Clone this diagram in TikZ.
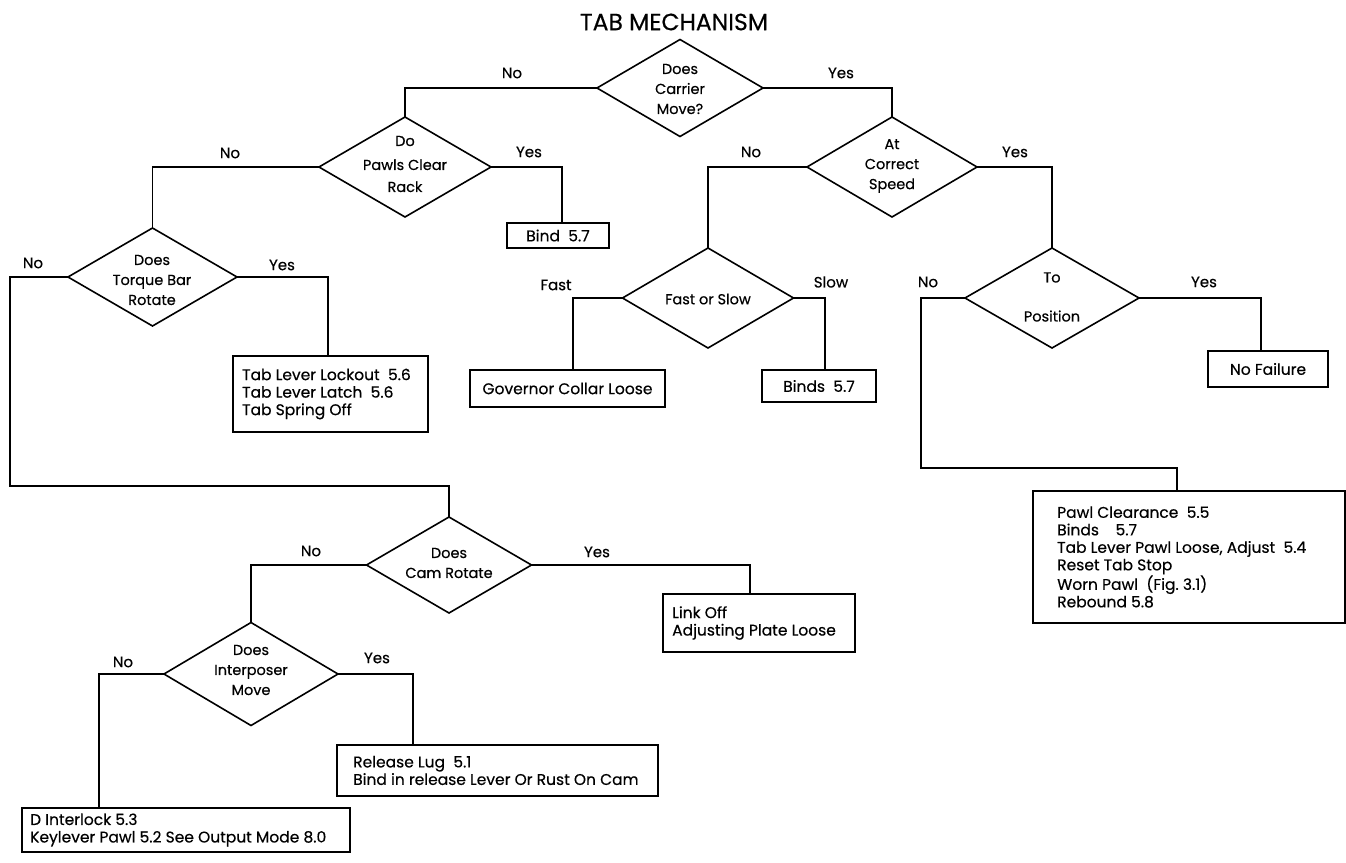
\documentclass[tikz,border=0pt]{standalone}
\usepackage{fontspec}
\newfontfamily\popfont[FakeBold=0.4]{Poppins}
\usetikzlibrary{shapes.geometric}
\newcommand\bodyfont{\popfont\fontsize{14.5}{20}\selectfont}
\newcommand\boxfont{\popfont\fontsize{15.5}{17.5}\selectfont}
\newcommand\lblfont{\popfont\fontsize{15}{18}\selectfont}
\newcommand\titlefont{\popfont\fontsize{23.5}{28}\selectfont}
\begin{document}
\begin{tikzpicture}[x=1pt,y=-1pt,
 dia/.style={draw,diamond,inner sep=0pt,outer sep=0pt,line width=1.6pt},
 rbox/.style={draw,rectangle,inner sep=0pt,outer sep=0pt,line width=1.6pt},
 txt/.style={font=\bodyfont,align=center,inner sep=0pt},
 btxt/.style={font=\boxfont,align=center,inner sep=0pt},
 ltxt/.style={font=\boxfont,align=left,inner sep=0pt,anchor=west},
 lbl/.style={font=\lblfont,inner sep=0pt},
 wire/.style={line width=1.6pt}]
\useasboundingbox (0,0) rectangle (1346,862);

\node[txt,font=\titlefont] (title) at (674,22) {TAB MECHANISM};

% diamonds
\node[dia,minimum width=166pt,minimum height=97pt] (d1) at (680,88) {};
\node[txt] (t1) at (680,89) {Does\\Carrier\\Move?};
\node[dia,minimum width=172pt,minimum height=100pt] (d2) at (405,167) {};
\node[txt] (t2) at (405,164) {Do\\[4pt]Pawls Clear\\[2pt]Rack};
\node[dia,minimum width=170pt,minimum height=100pt] (d3) at (892,167) {};
\node[txt] (t3) at (892,166) {At\\Correct\\Speed};
\node[dia,minimum width=169pt,minimum height=98pt] (d4) at (152.5,277) {};
\node[txt] (t4) at (152,280) {Does\\Torque Bar\\Rotate};
\node[dia,minimum width=171pt,minimum height=100pt] (d5) at (708,298) {};
\node[txt] (t5) at (708,299) {Fast or Slow};
\node[dia,minimum width=174pt,minimum height=100pt] (tp) at (1052,298) {};
\node[txt] (t6) at (1052,297) {To\\[19pt]Position};
\node[dia,minimum width=165pt,minimum height=96pt] (cam) at (449,565) {};
\node[txt] (t7) at (449,563) {Does\\Cam Rotate};
\node[dia,minimum width=174pt,minimum height=103pt] (inter) at (251,674) {};
\node[txt] (t8) at (251,670) {Does\\Interposer\\Move};

% boxes
\node[rbox,minimum width=102pt,minimum height=25pt] (bind) at (558,235.5) {};
\node[btxt] (bindt) at (bind.center) {Bind~~5.7};
\node[rbox,minimum width=195pt,minimum height=76pt] (tab) at (330.5,394) {};
\node[ltxt] (tabt) at ([xshift=9pt]tab.west) {Tab Lever Lockout~~5.6\\Tab Lever Latch~~5.6\\Tab Spring Off};
\node[rbox,minimum width=195pt,minimum height=37pt] (gov) at (567.5,388.5) {};
\node[btxt] (govt) at (gov.center) {Governor Collar Loose};
\node[rbox,minimum width=114pt,minimum height=32pt] (binds) at (819,386) {};
\node[btxt] (bindst) at (binds.center) {Binds~~5.7};
\node[rbox,minimum width=120pt,minimum height=36pt] (nofail) at (1268,369) {};
\node[btxt] (nofailt) at (nofail.center) {No Failure};
\node[rbox,minimum width=312pt,minimum height=132pt] (pc) at (1189,557) {};
\node[ltxt] (pct) at ([xshift=24pt]pc.west) {Pawl Clearance~~5.5\\Binds~~~~5.7\\Tab Lever Pawl Loose, Adjust~~5.4\\Reset Tab Stop\\Worn Pawl~~(Fig.~3.1)\\Rebound 5.8};
\node[rbox,minimum width=192pt,minimum height=58pt] (link) at (759,623) {};
\node[ltxt] (linkt) at ([xshift=9pt]link.west) {Link Off\\Adjusting Plate Loose};
\node[rbox,minimum width=321pt,minimum height=51pt] (release) at (497.5,770.5) {};
\node[ltxt] (releaset) at ([xshift=16pt]release.west) {Release Lug~~5.1\\Bind in release Lever Or Rust On Cam};
\node[rbox,minimum width=328pt,minimum height=44pt] (dint) at (186,830) {};
\node[ltxt] (dintt) at ([xshift=8pt]dint.west) {D Interlock 5.3\\Keylever Pawl 5.2 See Output Mode 8.0};

% connectors
\coordinate (c1) at (10,486);
\coordinate (c2) at (921,468);
\draw[wire] (d1.west) -| (d2.north);
\draw[wire] (d1.east) -| (d3.north);
\draw[wire] (d2.west) -| (d4.north);
\draw[wire] (d2.east) -| ([xshift=4pt]bind.north);
\draw[wire] (d4.east) -| ([xshift=-2.5pt]tab.north);
\draw[wire] (d4.west) -| (c1) -| (cam.north);
\draw[wire] (d3.west) -| (d5.north);
\draw[wire] (d3.east) -| (tp.north);
\draw[wire] (d5.west) -| ([xshift=5.5pt]gov.north);
\draw[wire] (d5.east) -| ([xshift=6pt]binds.north);
\draw[wire] (tp.east) -| ([xshift=-7pt]nofail.north);
\draw[wire] (tp.west) -| (c2) -| ([xshift=-12pt]pc.north);
\draw[wire] (cam.west) -| (inter.north);
\draw[wire] (cam.east) -| ([xshift=-9pt]link.north);
\draw[wire] (inter.west) -| ([xshift=-87pt]dint.north);
\draw[wire] (inter.east) -| ([xshift=-84.5pt]release.north);

% labels
\node[lbl] (l1n) at (512,73) {No};
\node[lbl] (l1y) at (841,73) {Yes};
\node[lbl] (l2n) at (230,153) {No};
\node[lbl] (l2y) at (529,152) {Yes};
\node[lbl] (l3n) at (751,152) {No};
\node[lbl] (l3y) at (1015,152) {Yes};
\node[lbl] (l4n) at (33,263) {No};
\node[lbl] (l4y) at (282,265) {Yes};
\node[lbl] (l5f) at (556,285) {Fast};
\node[lbl] (l5s) at (831,282) {Slow};
\node[lbl] (ltn) at (928,282) {No};
\node[lbl] (lty) at (1204,282) {Yes};
\node[lbl] (lcn) at (311,551) {No};
\node[lbl] (lcy) at (597,552) {Yes};
\node[lbl] (lin) at (123,662) {No};
\node[lbl] (liy) at (377,658) {Yes};
\end{tikzpicture}
\end{document}
